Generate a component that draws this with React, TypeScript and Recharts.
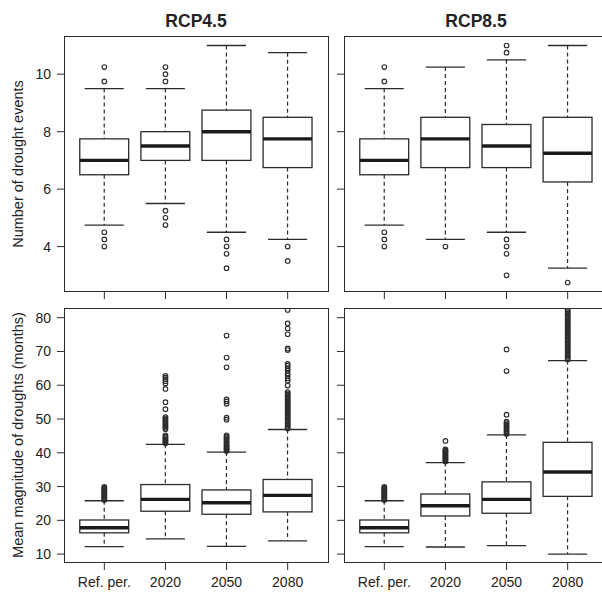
import React from 'react';
import { ComposedChart, Bar, Scatter, XAxis, YAxis } from 'recharts';

const categories = ['Ref. per.', '2020', '2050', '2080'];
const positions = [1, 2, 3, 4];

// box stats per period: [lower whisker, Q1, median, Q3, upper whisker]
const eventsRcp45 = [
  [4.75, 6.5, 7.0, 7.75, 9.5],
  [5.5, 7.0, 7.5, 8.0, 9.5],
  [4.5, 7.0, 8.0, 8.75, 11.0],
  [4.25, 6.75, 7.75, 8.5, 10.75],
];
const eventsRcp85 = [
  [4.75, 6.5, 7.0, 7.75, 9.5],
  [4.25, 6.75, 7.75, 8.5, 10.25],
  [4.5, 6.75, 7.5, 8.25, 10.5],
  [3.25, 6.25, 7.25, 8.5, 11.0],
];
const eventsRcp45Outliers = [
  [10.25, 9.75, 4.5, 4.25, 4.0],
  [10.25, 10.0, 9.75, 5.25, 5.0, 4.75],
  [4.25, 4.0, 3.75, 3.25],
  [4.0, 3.5],
];
const eventsRcp85Outliers = [
  [10.25, 9.75, 4.5, 4.25, 4.0],
  [4.0],
  [11.0, 10.75, 4.25, 4.0, 3.75, 3.0],
  [2.75],
];

const magnitudeRcp45 = [
  [12.2, 16.3, 17.8, 20.1, 25.8],
  [14.5, 22.7, 26.2, 30.6, 42.5],
  [12.3, 21.8, 25.2, 29.0, 40.2],
  [13.9, 22.5, 27.4, 32.1, 46.9],
];
const magnitudeRcp85 = [
  [12.2, 16.3, 17.8, 20.1, 25.8],
  [12.1, 21.3, 24.3, 27.8, 37.1],
  [12.5, 22.1, 26.2, 31.4, 45.3],
  [10.0, 27.1, 34.3, 43.1, 67.3],
];
const magnitudeRcp45Outliers = [
  [26.0, 26.3, 26.6, 26.9, 27.2, 27.5, 27.8, 28.1, 28.4, 28.7, 29.0, 29.3, 29.6, 29.9],
  [42.8, 43.1, 43.4, 43.7, 44.0, 44.4, 44.8, 45.2, 47.0, 47.4, 47.8, 48.2, 48.6, 49.0, 49.4, 49.8, 50.2, 50.6,
    52.9, 55.0, 58.9, 60.5, 61.2, 61.8, 62.3, 62.8],
  [40.5, 40.8, 41.1, 41.4, 41.7, 42.0, 42.4, 42.8, 43.2, 43.6, 44.0, 44.4, 44.8, 45.2, 49.8, 50.4, 54.5, 55.2, 55.8,
    65.3, 68.2, 74.7],
  [47.2, 47.6, 48.0, 48.4, 48.8, 49.2, 49.6, 50.0, 50.4, 50.8, 51.2, 51.6, 52.0, 52.4, 52.8, 53.2, 53.6, 54.0, 54.4,
    54.8, 55.2, 55.6, 56.0, 56.4, 56.8, 57.2, 57.6, 58.0, 59.9, 61.3, 62.0, 62.8, 63.5, 64.3, 65.0, 65.8, 66.3,
    70.4, 70.9, 75.1, 76.8, 78.3, 82.3],
];
const magnitudeRcp85Outliers = [
  [26.0, 26.3, 26.6, 26.9, 27.2, 27.5, 27.8, 28.1, 28.4, 28.7, 29.0, 29.3, 29.6, 29.9],
  [37.4, 37.7, 38.0, 38.3, 38.6, 38.9, 39.2, 39.5, 39.8, 40.1, 40.4, 40.7, 41.0, 43.5],
  [45.6, 46.0, 46.4, 46.8, 47.2, 47.6, 48.0, 48.4, 48.8, 49.2, 51.3, 64.2, 70.6],
  [67.6, 68.0, 68.4, 68.8, 69.2, 69.6, 70.0, 70.4, 70.8, 71.2, 71.6, 72.0, 72.4, 72.8, 73.2, 73.6, 74.0, 74.4,
    74.8, 75.2, 75.6, 76.0, 76.4, 76.8, 77.2, 77.6, 78.0, 78.4, 78.8, 79.2, 79.6, 80.0, 80.4, 80.8, 81.2, 81.6,
    82.0, 82.4],
];

const eventsTicks = [4, 6, 8, 10];
const magnitudeTicks = [10, 20, 30, 40, 50, 60, 70, 80];

const INK = '#2b2b2b';

const BoxShape = (props: any) => {
  const { x, y, width, height } = props;
  const entry = props.payload ?? props;
  if (!entry || !entry.stats || x == null || y == null) return null;
  const [lo, q1, med, q3, hi] = entry.stats;
  const top = Math.min(y, y + height);
  const h = Math.abs(height);
  const py = (v: number) => top + ((hi - v) / (hi - lo)) * h;
  const cx = x + width / 2;
  const cap = (width * 0.8) / 2;
  return (
    <g>
      <line x1={cx} x2={cx} y1={py(hi)} y2={py(q3)} stroke={INK} strokeWidth={1.2} strokeDasharray="4 3" />
      <line x1={cx} x2={cx} y1={py(q1)} y2={py(lo)} stroke={INK} strokeWidth={1.2} strokeDasharray="4 3" />
      <line x1={cx - cap} x2={cx + cap} y1={py(hi)} y2={py(hi)} stroke={INK} strokeWidth={1.3} />
      <line x1={cx - cap} x2={cx + cap} y1={py(lo)} y2={py(lo)} stroke={INK} strokeWidth={1.3} />
      <rect x={x} y={py(q3)} width={width} height={py(q1) - py(q3)} fill="#fff" stroke={INK} strokeWidth={1.3} />
      <line x1={x} x2={x + width} y1={py(med)} y2={py(med)} stroke="#1a1a1a" strokeWidth={3.4} />
    </g>
  );
};

const Outlier = (props: any) =>
  props.cx == null ? null : (
    <circle cx={props.cx} cy={props.cy} r={2.3} fill="none" stroke={INK} strokeWidth={1.1} />
  );

interface PanelProps {
  stats: number[][];
  outliers: number[][];
  domain: [number, number];
  ticks: number[];
  left: number;
  top: number;
  height: number;
  marginTop: number;
  xAxisHeight: number;
  showYLabels: boolean;
  showXLabels: boolean;
}

const Panel = ({ stats, outliers, domain, ticks, left, top, height, marginTop, xAxisHeight, showYLabels, showXLabels }: PanelProps) => {
  const data = stats.map((s, i) => ({ x: positions[i], range: [s[0], s[4]], stats: s }));
  const points = outliers.flatMap((vals, i) => vals.map((v) => ({ x: positions[i], y: v })));
  return (
    <div style={{ position: 'absolute', left, top }}>
      <ComposedChart width={340} height={height} data={data} margin={{ top: marginTop, right: 12, bottom: 0, left: 0 }}>
        <XAxis
          dataKey="x"
          type="number"
          domain={[0.34, 4.66]}
          allowDataOverflow
          ticks={positions}
          tickFormatter={(v) => (showXLabels ? categories[Math.round(v) - 1] ?? '' : '')}
          height={xAxisHeight}
          axisLine={false}
          tickSize={7}
          tickMargin={7}
          tickLine={{ stroke: INK }}
          tick={{ fill: '#222', fontSize: 14 }}
          interval={0}
        />
        <YAxis
          type="number"
          domain={domain}
          allowDataOverflow
          ticks={ticks}
          width={64}
          axisLine={false}
          tickSize={7}
          tickMargin={6}
          tickLine={{ stroke: INK }}
          tickFormatter={(v) => (showYLabels ? String(v) : '')}
          tick={{ fill: '#222', fontSize: 14 }}
        />
        <Bar dataKey="range" barSize={48.9} shape={<BoxShape />} isAnimationActive={false} />
        <Scatter data={points} dataKey="y" shape={<Outlier />} isAnimationActive={false} />
      </ComposedChart>
    </div>
  );
};

const frame = (left: number, top: number, height: number) => (
  <div
    style={{
      position: 'absolute',
      left,
      top,
      width: 265,
      height,
      border: `1.3px solid ${INK}`,
      boxSizing: 'border-box',
      pointerEvents: 'none',
    }}
  />
);

const rotated = (text: string, cx: number, cy: number) => (
  <div
    style={{
      position: 'absolute',
      left: cx - 160,
      top: cy - 10,
      width: 320,
      height: 20,
      lineHeight: '20px',
      fontSize: 14.5,
      color: '#222',
      textAlign: 'center',
      transform: 'rotate(-90deg)',
      whiteSpace: 'nowrap',
    }}
  >
    {text}
  </div>
);

const titleStyle: React.CSSProperties = {
  position: 'absolute',
  top: 11,
  width: 200,
  textAlign: 'center',
  fontWeight: 'bold',
  fontSize: 17.5,
  color: '#222',
};

export default function App() {
  return (
    <div
      style={{
        position: 'absolute',
        left: 0,
        top: 0,
        width: 602,
        height: 592,
        overflow: 'hidden',
        background: '#fff',
        fontFamily: '"Liberation Sans", Arial, sans-serif',
      }}
    >
      <div style={{ ...titleStyle, left: 96 }}>RCP4.5</div>
      <div style={{ ...titleStyle, left: 376 }}>RCP8.5</div>
      {rotated('Number of drought events', 17.5, 164)}
      {rotated('Mean magnitude of droughts (months)', 17.5, 435)}
      <Panel stats={eventsRcp45} outliers={eventsRcp45Outliers} domain={[2.42, 11.33]} ticks={eventsTicks}
        left={0} top={0} height={310} marginTop={36} xAxisHeight={18} showYLabels showXLabels={false} />
      <Panel stats={eventsRcp85} outliers={eventsRcp85Outliers} domain={[2.42, 11.33]} ticks={eventsTicks}
        left={280} top={0} height={310} marginTop={36} xAxisHeight={18} showYLabels={false} showXLabels={false} />
      <Panel stats={magnitudeRcp45} outliers={magnitudeRcp45Outliers} domain={[7.37, 82.87]} ticks={magnitudeTicks}
        left={0} top={290} height={302} marginTop={18} xAxisHeight={29} showYLabels showXLabels />
      <Panel stats={magnitudeRcp85} outliers={magnitudeRcp85Outliers} domain={[7.37, 82.87]} ticks={magnitudeTicks}
        left={280} top={290} height={302} marginTop={18} xAxisHeight={29} showYLabels={false} showXLabels />
      {frame(64, 36, 256)}
      {frame(344, 36, 256)}
      {frame(64, 308, 255)}
      {frame(344, 308, 255)}
    </div>
  );
}
